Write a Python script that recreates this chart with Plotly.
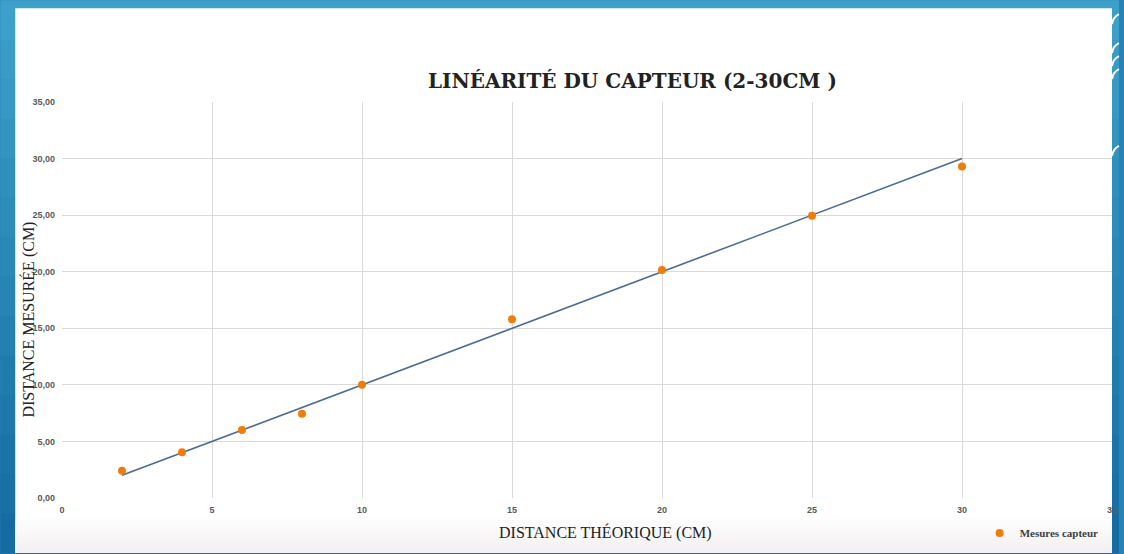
import plotly.graph_objects as go

# ---- data ----
distance_theorique = [2, 4, 6, 8, 10, 15, 20, 25, 30]
mesures_capteur = [2.4, 4.05, 6.0, 7.45, 10.0, 15.8, 20.15, 24.95, 29.3]
ideal_x = [2, 30]
ideal_y = [2, 30]
x_ticks = [0, 5, 10, 15, 20, 25, 30, 35]
y_ticks = [0, 5, 10, 15, 20, 25, 30, 35]

W, H = 1124, 554
L, R, T, B = 62, 1117, 102, 499  # plot area in pixels


def px(x):
    return (x - L) / (R - L)


def py(y):
    return (B - y) / (B - T)


fig = go.Figure()

fig.add_trace(go.Scatter(
    x=ideal_x, y=ideal_y, mode="lines",
    line=dict(color="#4a6b95", width=1.6),
    showlegend=False, hoverinfo="skip",
))
fig.add_trace(go.Scatter(
    x=distance_theorique, y=mesures_capteur, mode="markers",
    marker=dict(color="#f07c0a", size=8),
    name="Mesures capteur",
))

shapes = []
# blue slide background gradient (top lighter, bottom darker)
top_c = (60, 160, 202)
bot_c = (22, 108, 162)
n = 14
for i in range(n):
    t = i / (n - 1)
    c = tuple(int(top_c[k] + (bot_c[k] - top_c[k]) * t) for k in range(3))
    y0 = H * i / n
    y1 = H * (i + 1) / n + 1
    shapes.append(dict(type="rect", xref="paper", yref="paper",
                       x0=px(0), x1=px(W), y0=py(y1), y1=py(y0),
                       fillcolor="rgb(%d,%d,%d)" % c, line=dict(width=0),
                       layer="below"))
# white slide panel
shapes.append(dict(type="rect", xref="paper", yref="paper",
                   x0=px(15), x1=px(1117), y0=py(554), y1=py(8),
                   fillcolor="white", line=dict(width=0), layer="below"))
# soft grey fade at the bottom of the panel
m = 10
for i in range(m):
    ya = 518 + i * 36 / m
    g = int(255 - (i + 1) * 15 / m)
    shapes.append(dict(type="rect", xref="paper", yref="paper",
                       x0=px(15), x1=px(1117), y0=py(554), y1=py(ya),
                       fillcolor="rgba(%d,%d,%d,0.35)" % (g, g - 2, g - 2),
                       line=dict(width=0), layer="below"))
# decorative white arcs on the right edge
for yy in [18, 47, 60, 73, 150]:
    x0, y0 = px(1117), py(yy + 6)
    xc, yc = px(1118), py(yy - 1)
    x1, y1 = px(1124), py(yy - 4)
    shapes.append(dict(type="path", xref="paper", yref="paper",
                       path=f"M {x0},{y0} Q {xc},{yc} {x1},{y1}",
                       line=dict(color="white", width=2), layer="above"))

annotations = [
    dict(text="<b>LINÉARITÉ DU CAPTEUR (2-30CM )</b>", xref="paper", yref="paper",
         x=px(635), y=py(81), showarrow=False, xanchor="center", yanchor="middle",
         font=dict(family="DejaVu Serif", size=20, color="#222222")),
    dict(text="DISTANCE THÉORIQUE (CM)", xref="paper", yref="paper",
         x=px(608), y=py(534), showarrow=False, xanchor="center", yanchor="middle",
         font=dict(family="Liberation Serif", size=16, color="#222222")),
    dict(text="DISTANCE MESURÉE (CM)", xref="paper", yref="paper",
         x=px(28), y=py(320), showarrow=False, xanchor="center", yanchor="middle",
         textangle=-90,
         font=dict(family="Liberation Serif", size=16, color="#222222")),
]

fig.update_layout(
    width=W, height=H,
    margin=dict(l=L, r=W - R, t=T, b=H - B, pad=0),
    paper_bgcolor="rgb(40,130,180)",
    plot_bgcolor="rgba(0,0,0,0)",
    separators=", ",
    shapes=shapes,
    annotations=annotations,
    showlegend=True,
    legend=dict(x=px(984), y=py(534), xanchor="left", yanchor="middle",
                bgcolor="rgba(0,0,0,0)",
                font=dict(family="Liberation Serif", size=11, color="#404040",
                          weight="bold"),
                itemwidth=30),
    xaxis=dict(range=[0, 35], tickvals=x_ticks, showgrid=True,
               gridcolor="#d9d9d9", gridwidth=1, zeroline=False,
               showline=False, ticks="", ticklabelstandoff=5,
               tickfont=dict(family="Liberation Sans", size=9, color="#595959",
                             weight="bold")),
    yaxis=dict(range=[0, 35], tickvals=y_ticks, tickformat=".2f",
               showgrid=True, gridcolor="#d9d9d9", gridwidth=1, zeroline=False,
               showline=False, ticks="", ticklabelstandoff=6,
               tickfont=dict(family="Liberation Sans", size=9, color="#595959",
                             weight="bold")),
)

fig.write_html(
    "out.html",
    config={"displayModeBar": False},
    post_script="document.body.style.margin='0';document.body.style.overflow='hidden';",
)
